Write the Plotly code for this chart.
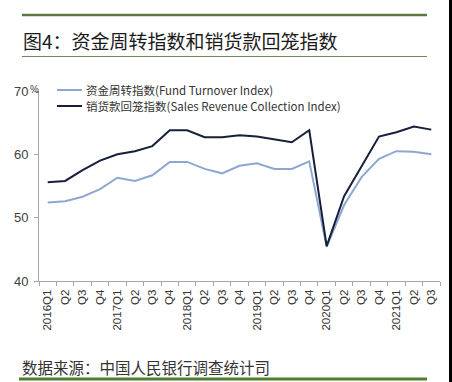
import plotly.graph_objects as go

quarters = ["2016Q1", "2016Q2", "2016Q3", "2016Q4",
            "2017Q1", "2017Q2", "2017Q3", "2017Q4",
            "2018Q1", "2018Q2", "2018Q3", "2018Q4",
            "2019Q1", "2019Q2", "2019Q3", "2019Q4",
            "2020Q1", "2020Q2", "2020Q3", "2020Q4",
            "2021Q1", "2021Q2", "2021Q3"]
tick_labels = ["2016Q1", "Q2", "Q3", "Q4", "2017Q1", "Q2", "Q3", "Q4",
               "2018Q1", "Q2", "Q3", "Q4", "2019Q1", "Q2", "Q3", "Q4",
               "2020Q1", "Q2", "Q3", "Q4", "2021Q1", "Q2", "Q3"]
fund_turnover = [52.4, 52.6, 53.3, 54.5, 56.3, 55.8, 56.7, 58.8,
                 58.8, 57.7, 57.0, 58.2, 58.6, 57.7, 57.7, 58.9,
                 45.4, 52.0, 56.4, 59.3, 60.5, 60.4, 60.0]
sales_collection = [55.6, 55.8, 57.5, 59.0, 60.0, 60.5, 61.3, 63.8,
                    63.8, 62.7, 62.7, 63.0, 62.8, 62.3, 61.9, 63.8,
                    45.5, 53.4, 58.1, 62.8, 63.5, 64.4, 63.9]
series_names = ["资金周转指数(Fund Turnover Index)",
                "销货款回笼指数(Sales Revenue Collection Index)"]
series_colors = ["#8ea7d2", "#17203a"]
y_ticks = [40, 50, 60, 70]
title_text = "图4：资金周转指数和销货款回笼指数"
source_text = "数据来源：中国人民银行调查统计司"

W, H = 452, 382
L, R, T, B = 39, 12, 91, 101
PW, PH = W - L - R, H - T - B


def px(x):
    return (x - L) / PW


def py(y):
    return (H - B - y) / PH


fig = go.Figure()
for name, vals, col in zip(series_names, [fund_turnover, sales_collection], series_colors):
    fig.add_trace(go.Scatter(x=quarters, y=vals, name=name, mode="lines",
                             line=dict(color=col, width=2), showlegend=False,
                             hoverinfo="skip"))

shapes = []
annotations = []

# legend (manual)
for i, (name, col) in enumerate(zip(series_names, series_colors)):
    yy = 90 + i * 16
    shapes.append(dict(type="line", xref="paper", yref="paper",
                       x0=px(57), x1=px(82), y0=py(yy), y1=py(yy),
                       line=dict(color=col, width=2)))
    annotations.append(dict(text=name, xref="paper", yref="paper",
                            x=px(84), y=py(yy), xanchor="left", yanchor="middle",
                            showarrow=False,
                            font=dict(family="Noto Sans CJK SC, sans-serif", size=11.5, color="#333333")))

# decorative lines
shapes.append(dict(type="line", xref="paper", yref="paper", x0=px(22), x1=px(427),
                   y0=py(15), y1=py(15), line=dict(color="#5b7a3e", width=2.5)))
shapes.append(dict(type="line", xref="paper", yref="paper", x0=px(22), x1=px(427),
                   y0=py(56.5), y1=py(56.5), line=dict(color="#6f8a5c", width=1)))
shapes.append(dict(type="line", xref="paper", yref="paper", x0=px(19), x1=px(427),
                   y0=py(379), y1=py(379), line=dict(color="#4f7f2c", width=3)))
shapes.append(dict(type="rect", xref="paper", yref="paper", x0=px(449), x1=px(453),
                   y0=py(-1), y1=py(383), line=dict(width=0), fillcolor="#000000"))

annotations.append(dict(text=title_text, xref="paper", yref="paper", x=px(21), y=py(40),
                        xanchor="left", yanchor="middle", showarrow=False,
                        font=dict(family="Noto Sans CJK SC, serif", size=19, color="#1a1a1a")))
annotations.append(dict(text=source_text, xref="paper", yref="paper", x=px(20), y=py(367),
                        xanchor="left", yanchor="middle", showarrow=False,
                        font=dict(family="Noto Sans CJK SC, sans-serif", size=15.5, color="#333333")))
annotations.append(dict(text="%", xref="paper", yref="paper", x=px(34.5), y=py(89),
                        xanchor="center", yanchor="middle", showarrow=False,
                        font=dict(family="Arial, Liberation Sans, sans-serif", size=10, color="#404040")))

fig.update_layout(
    width=W, height=H,
    margin=dict(l=L, r=R, t=T, b=B, autoexpand=False),
    paper_bgcolor="white", plot_bgcolor="white",
    shapes=shapes, annotations=annotations,
    showlegend=False,
)
fig.update_xaxes(type="category", range=[-0.5, len(quarters) - 0.5],
                 tickvals=quarters, ticktext=tick_labels, tickangle=-90,
                 tickfont=dict(family="Arial, Liberation Sans, sans-serif", size=11.5, color="#333333"),
                 showline=True, linecolor="#a6a6a6", linewidth=1,
                 ticks="outside", ticklen=4, tickcolor="#a6a6a6", tickson="boundaries",
                 ticklabelstandoff=3,
                 showgrid=False, zeroline=False)
fig.update_yaxes(range=[40, 70], tickvals=y_ticks,
                 tickfont=dict(family="Arial, Liberation Sans, sans-serif", size=13, color="#404040"),
                 showline=True, linecolor="#a6a6a6", linewidth=1,
                 ticks="outside", ticklen=4, tickcolor="#a6a6a6",
                 ticklabelstandoff=3,
                 showgrid=False, zeroline=False)

fig.write_html("out.html",
               config={"displayModeBar": False, "staticPlot": True},
               post_script="document.body.style.margin='0';document.body.style.overflow='hidden';")
